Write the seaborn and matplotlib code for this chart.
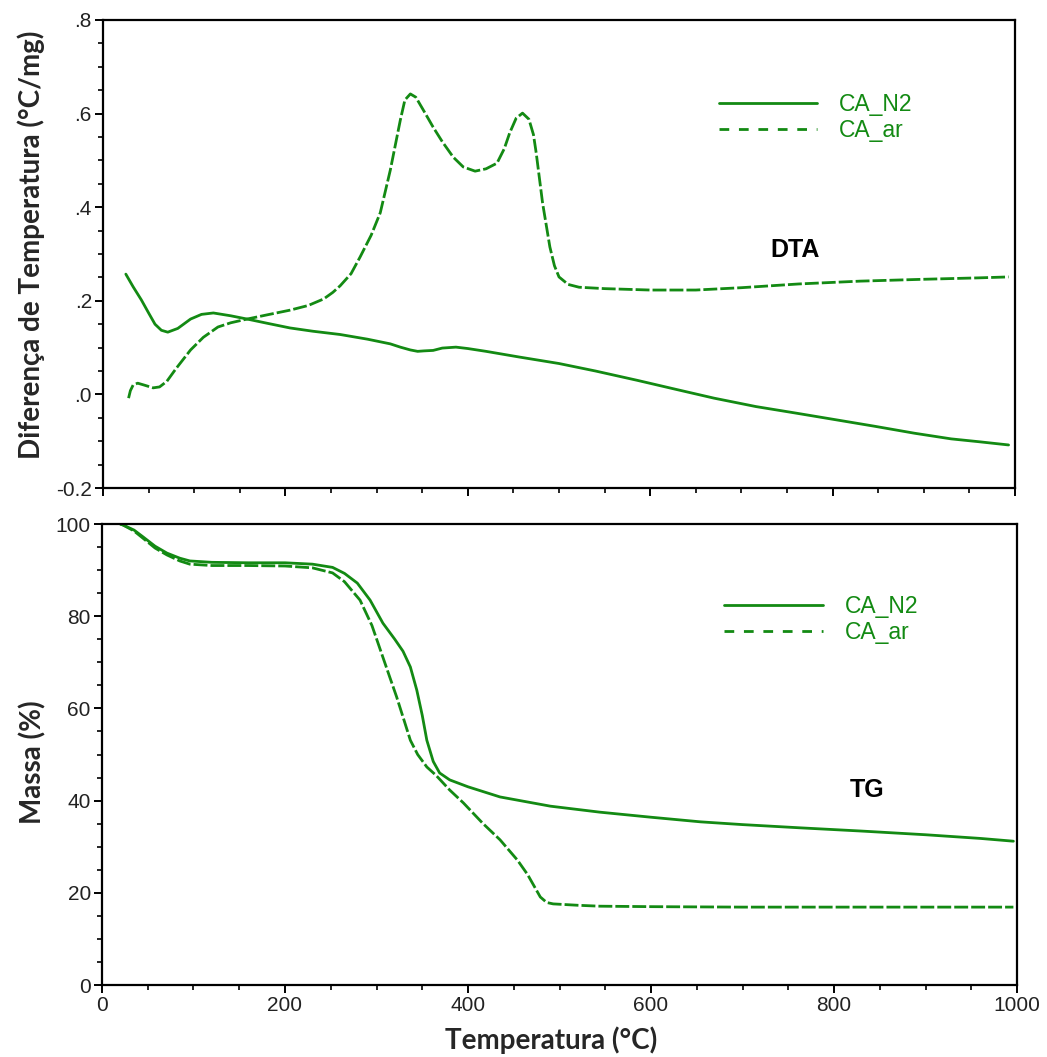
import matplotlib
matplotlib.use("Agg")
import matplotlib.pyplot as plt
from matplotlib.lines import Line2D
from matplotlib.ticker import MultipleLocator, FixedLocator
import seaborn as sns
import pandas as pd

# ---------------- data ----------------
dta_n2_T = [25, 33, 42, 50, 57, 64, 71, 82, 96, 108, 121, 140, 158, 180, 205, 230, 260, 290, 315,
            326, 337, 345, 352, 362, 372, 387, 400, 420, 456, 500, 540, 586, 630, 670, 716,
            760, 800, 846, 890, 930, 960, 993]
dta_n2_v = [0.257, 0.230, 0.202, 0.174, 0.150, 0.137, 0.133, 0.141, 0.161, 0.171, 0.174, 0.168,
            0.161, 0.152, 0.142, 0.135, 0.128, 0.118, 0.108, 0.101, 0.095, 0.092, 0.093, 0.094,
            0.099, 0.101, 0.098, 0.092, 0.080, 0.066, 0.050, 0.030, 0.010, -0.008, -0.026,
            -0.040, -0.053, -0.068, -0.083, -0.095, -0.101, -0.108]

dta_ar_T = [28, 30, 33, 38, 45, 55, 62, 70, 80, 96, 110, 126, 140, 158, 180, 205, 225, 242, 252,
            260, 272, 282, 294, 304, 315, 326, 331, 337, 343, 352, 362, 372, 384, 395, 408, 420,
            432, 440, 446, 453, 460, 467, 472, 475, 482, 490, 495, 500, 510, 522, 550, 600, 650,
            700, 763, 830, 900, 960, 993]
dta_ar_v = [-0.008, 0.008, 0.020, 0.024, 0.020, 0.014, 0.016, 0.028, 0.055, 0.095, 0.122, 0.144,
            0.153, 0.161, 0.170, 0.180, 0.190, 0.204, 0.218, 0.232, 0.258, 0.294, 0.340, 0.388,
            0.479, 0.586, 0.629, 0.642, 0.635, 0.605, 0.571, 0.540, 0.507, 0.486, 0.477, 0.482,
            0.494, 0.525, 0.559, 0.590, 0.601, 0.588, 0.555, 0.516, 0.409, 0.315, 0.275, 0.251,
            0.235, 0.229, 0.226, 0.223, 0.223, 0.228, 0.236, 0.242, 0.246, 0.249, 0.251]

tg_n2_T = [20, 23, 35, 45, 58, 71, 85, 96, 120, 160, 200, 230, 252, 265, 279, 293, 307, 320, 329,
           337, 344, 350, 355, 362, 369, 380, 400, 435, 490, 544, 600, 654, 700, 763, 830, 900,
           960, 996]
tg_n2_v = [100.0, 99.8, 98.7, 97.2, 95.2, 93.7, 92.6, 92.0, 91.7, 91.6, 91.6, 91.3, 90.6, 89.3,
           87.2, 83.5, 78.5, 75.0, 72.4, 69.0, 64.0, 58.5, 53.1, 48.5, 46.0, 44.5, 43.0, 40.8,
           38.8, 37.5, 36.4, 35.4, 34.8, 34.1, 33.4, 32.6, 31.8, 31.2]

tg_ar_T = [20, 23, 35, 45, 58, 71, 85, 96, 120, 160, 200, 230, 252, 265, 282, 295, 307, 315, 322,
           330, 337, 345, 355, 365, 380, 395, 416, 435, 454, 465, 479, 486, 493, 520, 544, 600,
           700, 800, 900, 996]
tg_ar_v = [100.0, 99.8, 98.5, 96.9, 94.8, 93.3, 92.0, 91.3, 91.0, 91.0, 90.9, 90.5, 89.4, 87.5,
           83.5, 78.0, 71.1, 66.5, 62.5, 57.5, 53.1, 50.0, 47.3, 45.5, 42.3, 39.5, 35.1, 31.5,
           27.1, 24.0, 19.1, 17.9, 17.6, 17.3, 17.1, 17.0, 16.9, 16.9, 16.9, 16.9]

series_names = ["CA_N2", "CA_ar"]
x_ticks = [0, 200, 400, 600, 800, 1000]
dta_ticks = [-0.2, 0.0, 0.2, 0.4, 0.6, 0.8]
dta_tick_labels = ["-0.2", ".0", ".2", ".4", ".6", ".8"]
tg_ticks = [0, 20, 40, 60, 80, 100]

# ---------------- style ----------------
sns.set_style("ticks")
plt.rcParams["font.family"] = ["Liberation Sans", "DejaVu Sans"]
GREEN = "#138a13"
LW = 2.0
DASH = (5, 1.1)
dash_map = {"CA_N2": "", "CA_ar": DASH}

df_dta = pd.DataFrame({
    "T": dta_n2_T + dta_ar_T,
    "v": dta_n2_v + dta_ar_v,
    "amostra": ["CA_N2"] * len(dta_n2_T) + ["CA_ar"] * len(dta_ar_T),
})
df_tg = pd.DataFrame({
    "T": tg_n2_T + tg_ar_T,
    "v": tg_n2_v + tg_ar_v,
    "amostra": ["CA_N2"] * len(tg_n2_T) + ["CA_ar"] * len(tg_ar_T),
})

fig = plt.figure(figsize=(10.47, 10.57), dpi=100)
ax1 = fig.add_axes([0.0984, 0.5383, 0.871, 0.4428])
ax2 = fig.add_axes([0.0974, 0.0681, 0.874, 0.4361])

for ax, df in ((ax1, df_dta), (ax2, df_tg)):
    sns.lineplot(data=df, x="T", y="v", style="amostra", dashes=dash_map,
                 color=GREEN, linewidth=LW, sort=False, estimator=None,
                 legend=False, ax=ax)

label_font = dict(family=["Lato", "DejaVu Sans"], weight="bold", size=20)

# top axes
ax1.set_xlim(0, 1000)
ax1.set_ylim(-0.2, 0.8)
ax1.xaxis.set_major_locator(FixedLocator(x_ticks))
ax1.xaxis.set_minor_locator(MultipleLocator(50))
ax1.set_xticklabels([])
ax1.yaxis.set_major_locator(FixedLocator(dta_ticks))
ax1.set_yticklabels(dta_tick_labels)
ax1.yaxis.set_minor_locator(MultipleLocator(0.05))
ax1.set_xlabel("")
ax1.set_ylabel("Diferença de Temperatura (°C/mg)", **label_font)
ax1.yaxis.set_label_coords(-0.064, 0.52)
ax1.text(0.759, 0.509, "DTA", transform=ax1.transAxes, ha="center", va="center",
         fontsize=18, fontweight="bold", color="black")

# bottom axes
ax2.set_xlim(0, 1000)
ax2.set_ylim(0, 100)
ax2.xaxis.set_major_locator(FixedLocator(x_ticks))
ax2.xaxis.set_minor_locator(MultipleLocator(50))
ax2.yaxis.set_major_locator(FixedLocator(tg_ticks))
ax2.yaxis.set_minor_locator(MultipleLocator(5))
ax2.set_xlabel("Temperatura (°C)", **label_font)
ax2.xaxis.set_label_coords(0.491, -0.089)
ax2.set_ylabel("Massa (%)", **label_font)
ax2.yaxis.set_label_coords(-0.061, 0.484)
ax2.text(0.836, 0.423, "TG", transform=ax2.transAxes, ha="center", va="center",
         fontsize=18, fontweight="bold", color="black")

for ax in (ax1, ax2):
    for s in ax.spines.values():
        s.set_visible(True)
        s.set_linewidth(1.6)
        s.set_color("black")
    ax.tick_params(which="major", direction="out", length=6, width=1.4,
                   labelsize=15, colors="black", labelcolor="#222222", pad=2)
    ax.tick_params(which="minor", direction="out", length=3.5, width=1.2, colors="black")
    ax.tick_params(axis="x", which="both", top=False)
    ax.tick_params(axis="y", which="both", right=False)

handles = [Line2D([], [], color=GREEN, lw=LW, linestyle="-"),
           Line2D([], [], color=GREEN, lw=LW, linestyle=(0, (3.5, 3.5)))]
for ax, anchor in ((ax1, (0.665, 0.864)), (ax2, (0.67, 0.866))):
    ax.legend(handles, series_names, loc="upper left", bbox_to_anchor=anchor,
              frameon=False, fontsize=16.5, handlelength=4.3, handletextpad=0.95,
              labelspacing=0.12, labelcolor=GREEN, borderaxespad=0)

fig.savefig("out.png", dpi=100)
